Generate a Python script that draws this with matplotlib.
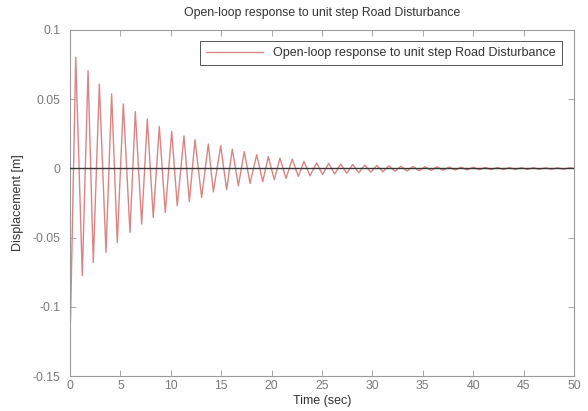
import numpy as np
import matplotlib
matplotlib.use("Agg")
import matplotlib.pyplot as plt

plt.rcParams['font.family'] = ['Liberation Sans', 'DejaVu Sans']
plt.rcParams['axes.unicode_minus'] = False

# ---- data: start spike, peaks and troughs ----
start_t = [0.0, 0.05]
start_v = [0.0, -0.11]

peak_t = [0.57, 1.79, 2.91, 4.13, 5.29, 6.48, 7.67, 8.86, 10.09, 11.31,
          12.40, 13.72, 14.95, 16.10, 17.29, 18.52, 19.67, 20.83, 22.05, 23.21,
          24.47, 25.66, 26.86, 28.05, 29.25, 30.44, 31.64, 32.83, 34.03, 35.22,
          36.42, 37.61, 38.81, 40.00, 41.20, 42.39, 43.59, 44.78, 45.98, 47.17,
          48.37, 49.56]
peak_v = [0.0802, 0.0706, 0.0609, 0.0538, 0.0466, 0.0410, 0.0357, 0.0303, 0.0267, 0.0234,
          0.0207, 0.0176, 0.0164, 0.0139, 0.0121, 0.0099, 0.0085, 0.0074, 0.0067, 0.0051,
          0.0040, 0.0036, 0.0032, 0.0028, 0.0024, 0.0021, 0.0019, 0.0016, 0.0014, 0.0012,
          0.0011, 0.0010, 0.0009, 0.0008, 0.0007, 0.0006, 0.0006, 0.0005, 0.0005, 0.0004,
          0.0004, 0.0004]

trough_t = [1.22, 2.31, 3.57, 4.69, 5.95, 7.11, 8.26, 9.45, 10.64, 11.84,
            13.06, 14.22, 15.54, 16.70, 17.86, 19.12, 20.27, 21.43, 22.65, 23.81,
            25.06, 26.26, 27.45, 28.65, 29.84, 31.04, 32.23, 33.43, 34.62, 35.82,
            37.01, 38.21, 39.40, 40.60, 41.79, 42.99, 44.18, 45.38, 46.57, 47.77,
            48.96]
trough_v = [-0.0775, -0.0679, -0.0607, -0.0535, -0.0462, -0.0402, -0.0354, -0.0318, -0.0270, -0.0240,
            -0.0210, -0.0169, -0.0154, -0.0125, -0.0108, -0.0096, -0.0082, -0.0072, -0.0058, -0.0053,
            -0.0045, -0.0040, -0.0035, -0.0031, -0.0027, -0.0024, -0.0021, -0.0019, -0.0017, -0.0015,
            -0.0013, -0.0012, -0.0011, -0.0010, -0.0009, -0.0008, -0.0008, -0.0007, -0.0007, -0.0006,
            -0.0006]

end_t = [50.0]
end_v = [0.0]

x_ticks = [0, 5, 10, 15, 20, 25, 30, 35, 40, 45, 50]
y_ticks = [-0.15, -0.1, -0.05, 0, 0.05, 0.1]

# merge everything in time order
t = np.array(start_t + peak_t + trough_t + end_t)
v = np.array(start_v + peak_v + trough_v + end_v)
order = np.argsort(t)
t, v = t[order], v[order]

# ---- plot ----
fig = plt.figure(figsize=(5.88, 4.11), dpi=100)
ax = fig.add_axes([70 / 588, 35 / 411, 504 / 588, 346 / 411])

ax.plot(t, v, color='#d98585', lw=1.0,
        label='Open-loop response to unit step Road Disturbance')
ax.axhline(0, color='#383838', lw=1.0, zorder=3)

ax.set_xlim(0, 50)
ax.set_ylim(-0.15, 0.1)
ax.set_xticks(x_ticks)
ax.set_yticks(y_ticks)
ax.set_xticklabels(['%g' % x for x in x_ticks])
ax.set_yticklabels(['%g' % y for y in y_ticks])

for s in ax.spines.values():
    s.set_color('#9a9a9a')
    s.set_linewidth(0.8)
ax.tick_params(direction='in', top=True, right=True, length=4, width=0.6,
               colors='#9a9a9a', labelcolor='#7a7a7a', labelsize=8.8)
ax.tick_params(axis='y', pad=7)
ax.tick_params(axis='x', pad=3)

ax.set_title('Open-loop response to unit step Road Disturbance',
             fontsize=8.8, color='#333333', pad=10)
ax.set_xlabel('Time (sec)', fontsize=9, color='#333333', labelpad=2)
ax.set_ylabel('Displacement [m]', fontsize=9, color='#333333', labelpad=6)

leg = ax.legend(loc='upper right', fontsize=9, handlelength=4.6,
                fancybox=False, framealpha=1, borderpad=0.45,
                bbox_to_anchor=(0.988, 0.985))
leg.get_frame().set_edgecolor('#555555')
leg.get_frame().set_linewidth(0.7)
for txt in leg.get_texts():
    txt.set_color('#333333')

fig.savefig('out.png', dpi=100)
